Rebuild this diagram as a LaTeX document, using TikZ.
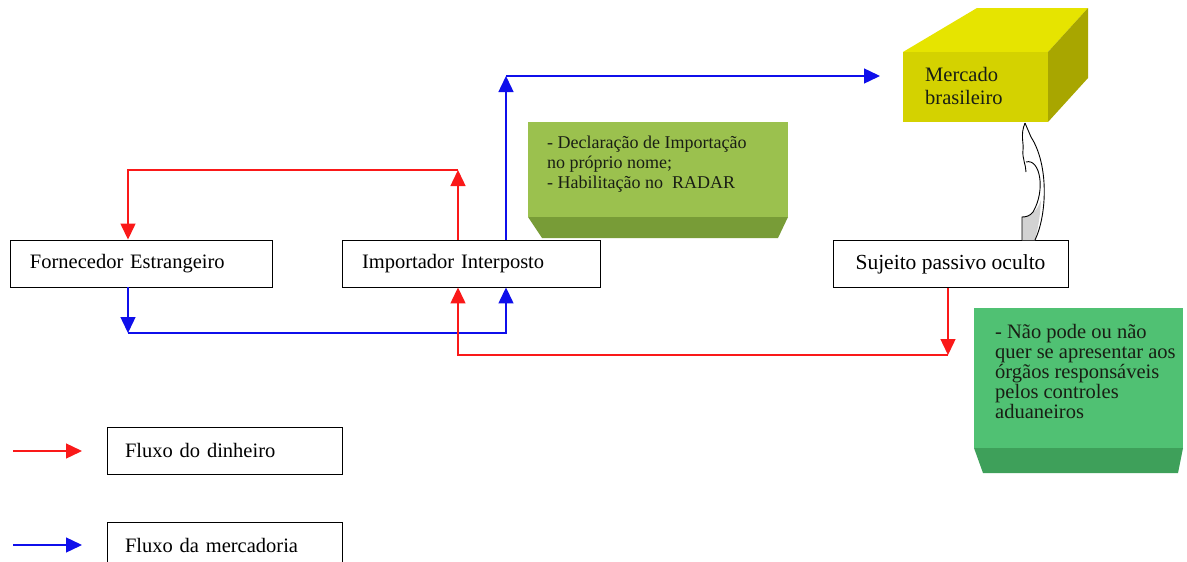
\documentclass[tikz,border=0pt]{standalone}
\usepackage{fontspec}
\setmainfont{Liberation Serif}
\usetikzlibrary{arrows.meta}
\definecolor{myred}{RGB}{250,25,25}
\definecolor{myblue}{RGB}{15,15,235}
\definecolor{yfront}{RGB}{212,210,0}
\definecolor{ytop}{RGB}{230,228,0}
\definecolor{yside}{RGB}{168,166,0}
\definecolor{gone}{RGB}{155,193,78}
\definecolor{goned}{RGB}{120,156,55}
\definecolor{gtwo}{RGB}{80,193,115}
\definecolor{gtwod}{RGB}{62,160,90}
\definecolor{txtdark}{RGB}{25,30,20}
\begin{document}
\begin{tikzpicture}[x=1pt,y=-1pt,
  box/.style={draw=black, line width=0.9pt, minimum height=47pt, inner xsep=20pt, inner ysep=0pt,
    font=\rmfamily\fontsize{20.5}{24}\selectfont},
  flow/.style={line width=1.4pt, -{Triangle[length=16pt,width=15pt]}},
  notetext/.style={anchor=north west, inner sep=0pt, align=left, text=txtdark}
]
\useasboundingbox (0,0) rectangle (1187,562);
\fill[white] (0,0) rectangle (1187,562);

% main boxes
\node[box, minimum width=262pt, text width=222pt, align=left] (forn) at (141,263.5) {Fornecedor Estrangeiro};
\node[box, minimum width=258pt, text width=218pt, align=left] (imp) at (471,263.5) {Importador Interposto};
\node[box, minimum width=235pt, font=\rmfamily\fontsize{21.5}{24}\selectfont] (suj) at (950.5,264) {Sujeito passivo oculto};

% legend boxes
\node[box, minimum width=235pt, inner xsep=18pt, text width=199pt, align=left] (leg1) at (224.5,450.5) {Fluxo do dinheiro};
\node[box, minimum width=235pt, inner xsep=18pt, text width=199pt, align=left] (leg2) at (224.5,545.5) {Fluxo da mercadoria};

% Mercado brasileiro cuboid
\fill[ytop] (903,52) -- (977,8) -- (1088,8) -- (1048,52) -- cycle;
\fill[yside] (1048,52) -- (1088,8) -- (1088,78) -- (1048,122) -- cycle;
\fill[yfront] (903,52) rectangle (1048,122);
\node[notetext, font=\rmfamily\fontsize{20.5}{23}\selectfont] (merc) at (925,67) {Mercado\\brasileiro};
\coordinate (mercL) at (880,76);
\coordinate (mercB) at (1025,123);

% green note 1
\fill[gone] (528,122) rectangle (788,217);
\fill[goned] (528,217) -- (788,217) -- (778,238) -- (542,238) -- cycle;
\node[notetext, font=\rmfamily\fontsize{18}{20}\selectfont] (note1) at (547,136)
  {- Declaração de Importação\\no próprio nome;\\- Habilitação no \ RADAR};

% green note 2
\fill[gtwo] (974,308) rectangle (1183,448);
\fill[gtwod] (974,448) -- (1183,448) -- (1178,473) -- (983,473) -- cycle;
\node[notetext, font=\rmfamily\fontsize{20.5}{20}\selectfont] (note2) at (995,324)
  {- Não pode ou não\\quer se apresentar aos\\órgãos responsáveis\\pelos controles\\aduaneiros};

% money flow Importador -> Fornecedor (top)
\coordinate (rt) at (458,170);
\coordinate (rl) at (128,170);
\draw[flow, myred] (rt |- imp.north) -- (rt);
\draw[flow, myred] (rt) -- (rl) -- (rl |- forn.north);

% goods flow Fornecedor -> Importador (bottom)
\coordinate (bl) at (128,333);
\coordinate (br) at (506,333);
\draw[flow, myblue] (bl |- forn.south) -- (bl);
\draw[flow, myblue] (bl) -- (br) -- (br |- imp.south);

% money flow Sujeito -> Importador
\coordinate (sr) at (948,355);
\coordinate (sl) at (458,355);
\draw[flow, myred] (sr |- suj.south) -- (sr);
\draw[flow, myred] (sr) -- (sl) -- (sl |- imp.south);

% goods flow Importador -> Mercado
\coordinate (bt) at (506,76);
\draw[flow, myblue] (bt |- imp.north) -- (bt);
\draw[flow, myblue] (bt) -- (mercL);

% curved arrow Sujeito -> Mercado
\fill[white] (1022,240) -- (1022,217) .. controls (1030,216) and (1040,205) .. (1042,190)
   .. controls (1044,172) and (1036,158) .. (1026,162) -- (1026,172)
   .. controls (1024,165) and (1022,158) .. (1023,150)
   .. controls (1024,143) and (1020,135) .. (mercB)
   -- (1030,135) .. controls (1048,165) and (1046,215) .. (1035,240) -- cycle;
\fill[gray!35] (1022,240) -- (1022,217) .. controls (1030,216) and (1037,212) .. (1041,200)
   .. controls (1040,220) and (1037,232) .. (1035,240) -- cycle;
\draw[line width=0.9pt] (1035,240) .. controls (1047,215) and (1049,165) .. (1031,137) -- (mercB);
\draw[line width=0.9pt] (mercB) .. controls (1020,135) and (1024,143) .. (1023,150)
   .. controls (1022,158) and (1026,165) .. (1026,172);
\draw[line width=0.9pt] (1026,162) .. controls (1040,158) and (1046,190) .. (1033,212)
   .. controls (1030,216) and (1026,217) .. (1022,217) -- (1022,240);

% legend arrows
\coordinate (la1s) at (13,451);
\coordinate (la1e) at (82,451);
\coordinate (la2s) at (13,545);
\coordinate (la2e) at (82,545);
\draw[flow, myred] (la1s) -- (la1e);
\draw[flow, myblue] (la2s) -- (la2e);
\end{tikzpicture}
\end{document}
